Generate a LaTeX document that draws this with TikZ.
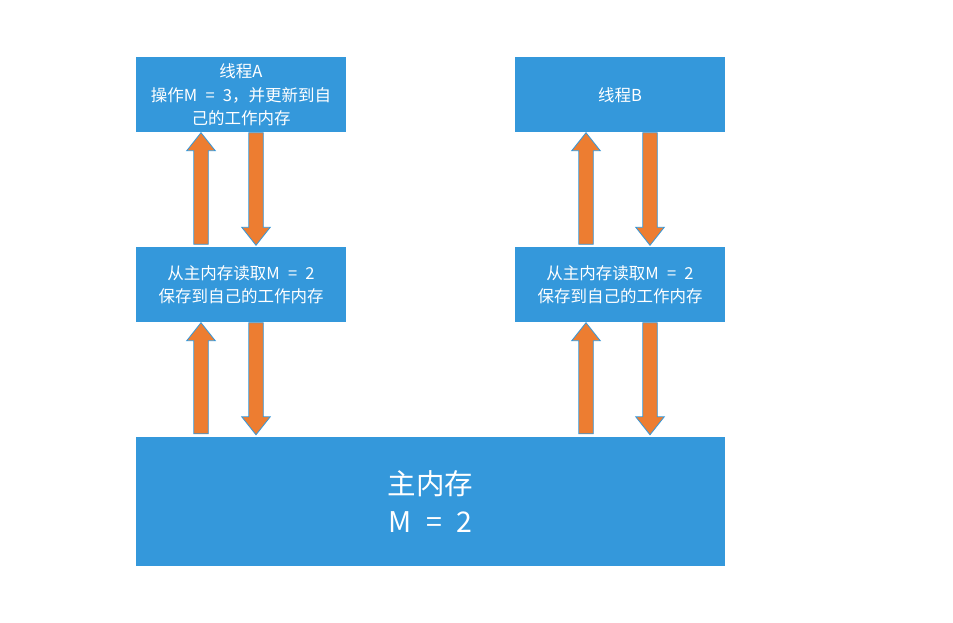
\documentclass[tikz,border=0pt]{standalone}
\usepackage{fontspec}
\setmainfont{Noto Sans CJK SC}
\usetikzlibrary{calc}
\definecolor{boxblue}{HTML}{3498DB}
\definecolor{arroworange}{HTML}{ED7D31}

\begin{document}
\begin{tikzpicture}[x=1pt, y=1pt,
    box/.style={fill=boxblue, text=white, minimum width=210pt, minimum height=75pt,
        inner sep=0pt, align=center, font=\fontsize{16.5}{23.5}\selectfont},
    fat/.style={fill=arroworange, draw=boxblue, line width=0.8pt,
        to path={let \p1=(\tikztostart), \p2=(\tikztotarget) in
            ({\x1-7.25pt},\y1) -- ({\x1-7.25pt},{\y2+#1}) -- ({\x1-14.25pt},{\y2+#1})
            -- (\x1,\y2) -- ({\x1+14.25pt},{\y2+#1}) -- ({\x1+7.25pt},{\y2+#1})
            -- ({\x1+7.25pt},\y1) -- cycle}},
    fatup/.style={fat=-18pt},
    fatdown/.style={fat=18pt}]
    \fill[white] (0,0) rectangle (953,623);
    \useasboundingbox (0,0) rectangle (953,623);

    \node[box] (thrA) at (241,528) {线程A\\操作M\enspace=\enspace3，并更新到自\\己的工作内存};
    \node[box] (thrB) at (620,528) {线程B};
    \node[box] (midA) at (241,338) {从主内存读取M\enspace=\enspace2\\保存到自己的工作内存};
    \node[box] (midB) at (620,338) {从主内存读取M\enspace=\enspace2\\保存到自己的工作内存};
    \node[box, minimum width=589pt, minimum height=129pt,
        font=\fontsize{28.5}{38.5}\selectfont] (mem) at (430.5,121.5) {主内存\\M\enspace=\enspace2};
    \path (mem.north -| midA) coordinate (memA)
          (mem.north -| midB) coordinate (memB);

    % thread A
    \draw[fatup] ([xshift=-40pt,yshift=3pt]midA.north) to ([xshift=-40pt]thrA.south);
    \draw[fatdown] ([xshift=15pt]thrA.south) to ([xshift=15pt,yshift=2pt]midA.north);
    \draw[fatup] ([xshift=-40pt,yshift=3pt]memA) to ([xshift=-40pt]midA.south);
    \draw[fatdown] ([xshift=15pt]midA.south) to ([xshift=15pt,yshift=2pt]memA);
    % thread B
    \draw[fatup] ([xshift=-34pt,yshift=3pt]midB.north) to ([xshift=-34pt]thrB.south);
    \draw[fatdown] ([xshift=30pt]thrB.south) to ([xshift=30pt,yshift=2pt]midB.north);
    \draw[fatup] ([xshift=-34pt,yshift=3pt]memB) to ([xshift=-34pt]midB.south);
    \draw[fatdown] ([xshift=30pt]midB.south) to ([xshift=30pt,yshift=2pt]memB);
\end{tikzpicture}
\end{document}
